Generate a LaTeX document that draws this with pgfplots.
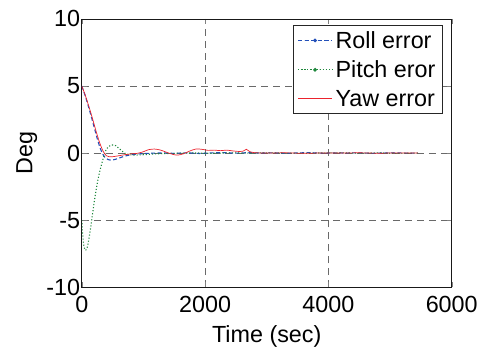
\documentclass[border=0pt]{standalone}
\usepackage{pgfplots}
\pgfplotsset{compat=1.18}
\usepackage{fontspec}
\setmainfont{Liberation Sans}

\definecolor{rollblue}{RGB}{35,80,185}
\definecolor{pitchgreen}{RGB}{30,135,60}
\definecolor{yawred}{RGB}{235,35,45}
\definecolor{gridgray}{RGB}{105,105,105}

\begin{document}
\begin{tikzpicture}
\begin{axis}[
  name=main,
  scale only axis,
  width=371bp, height=269bp,
  xmin=0, xmax=6000, ymin=-10, ymax=10,
  xtick={0,2000,4000,6000},
  ytick={-10,-5,0,5,10},
  scaled x ticks=false,
  /pgf/number format/assume math mode=true,
  /pgf/number format/1000 sep={},
  font=\fontsize{23.5}{27}\selectfont,
  tick label style={font=\fontsize{23.5}{27}\selectfont},
  label style={font=\fontsize{23.5}{27}\selectfont},
  yticklabel style={inner xsep=1.5bp, inner ysep=0bp},
  xticklabel style={inner ysep=0bp, yshift=-9bp},
  xlabel={Time (sec)},
  ylabel={Deg},
  xlabel style={yshift=-9bp},
  ylabel style={yshift=4bp},
  tick align=inside,
  major tick length=5bp,
  axis line style={black!90, line width=0.9pt},
  grid=major,
  major grid style={gridgray, line width=0.8pt, dash pattern=on 7bp off 5bp},
  legend cell align=left,
  legend style={
    at={(0.976,0.978)}, anchor=north east,
    draw=black!85, line width=0.8pt,
    font=\fontsize{23.5}{27}\selectfont,
    inner xsep=4bp, inner ysep=4bp,
    row sep=7bp,
    nodes={inner xsep=3bp, inner ysep=2bp},
  },
  legend image code/.code={%
    \draw[#1, mark repeat=2, mark phase=2]
      plot coordinates {(0cm,0cm) (0.6cm,0cm) (1.2cm,0cm)};},
]
% roll error
\addplot[rollblue, line width=1.1pt, dash pattern=on 4bp off 2.5bp, smooth,
  mark=*, mark size=1.3pt, mark phase=100000, mark options={solid}]
  coordinates {
  (0,5.0)(50,4.35)(100,3.6)(150,2.8)(200,1.95)(250,1.1)(300,0.35)(350,-0.15)
  (400,-0.42)(470,-0.53)(550,-0.46)(650,-0.3)(750,-0.17)(900,-0.07)(1100,-0.02)
  (1300,0.01)(1500,-0.02)(1700,0.02)(1900,-0.03)(2100,0.01)(2300,0.03)(2500,-0.01)
  (2700,0.03)(2900,0.0)(3100,0.02)(3300,-0.02)(3500,0.01)(3700,0.03)(3900,-0.01)
  (4100,0.02)(4300,0.0)(4500,0.02)(4700,-0.02)(4900,0.01)(5100,0.02)(5300,-0.01)
  (5450,0.0)};
\addlegendentry{Roll error}
% pitch error
\addplot[pitchgreen, line width=1.1pt, dotted, smooth,
  mark=*, mark size=1.3pt, mark phase=100000, mark options={solid}]
  coordinates {
  (0,-5.0)(25,-6.6)(55,-7.25)(90,-7.0)(130,-6.0)(170,-4.7)(210,-3.4)(250,-2.3)
  (290,-1.4)(345,-0.45)(400,0.3)(480,0.6)(550,0.55)(615,0.3)(720,-0.07)(850,-0.15)
  (1000,-0.12)(1200,-0.06)(1500,-0.02)(1800,0.01)(2100,-0.02)(2400,0.02)(2700,-0.01)
  (3000,0.02)(3300,0.0)(3600,-0.02)(3900,0.01)(4200,0.02)(4500,-0.01)(4800,0.01)
  (5100,-0.02)(5450,0.0)};
\addlegendentry{Pitch eror}
% yaw error
\addplot[yawred, line width=0.7pt, smooth]
  coordinates {
  (0,5.0)(50,4.4)(100,3.7)(150,2.95)(200,2.15)(250,1.35)(300,0.65)(350,0.1)
  (400,-0.2)(450,-0.28)(520,-0.26)(600,-0.2)(700,-0.12)(800,-0.06)(900,-0.02)
  (1000,0.1)(1080,0.25)(1180,0.3)(1280,0.22)(1380,0.05)(1480,-0.1)(1560,-0.15)
  (1650,-0.05)(1750,0.15)(1850,0.3)(1950,0.28)(2050,0.2)(2150,0.22)(2250,0.18)
  (2350,0.22)(2450,0.16)(2550,0.12)(2620,0.15)(2670,0.28)(2720,0.12)(2800,0.03)
  (3000,0.0)(3300,0.02)(3600,-0.02)(3900,0.01)(4200,0.0)(4500,0.02)(4800,-0.01)
  (5100,0.01)(5450,0.0)};
\addlegendentry{Yaw error}
\end{axis}
% page extent around the axis frame
\path (main.south west) ++(-82bp,-56bp) coordinate (pgsw);
\path (main.north east) ++(28bp,19bp) coordinate (pgne);
\path (pgsw) rectangle (pgne);
\end{tikzpicture}
\end{document}
